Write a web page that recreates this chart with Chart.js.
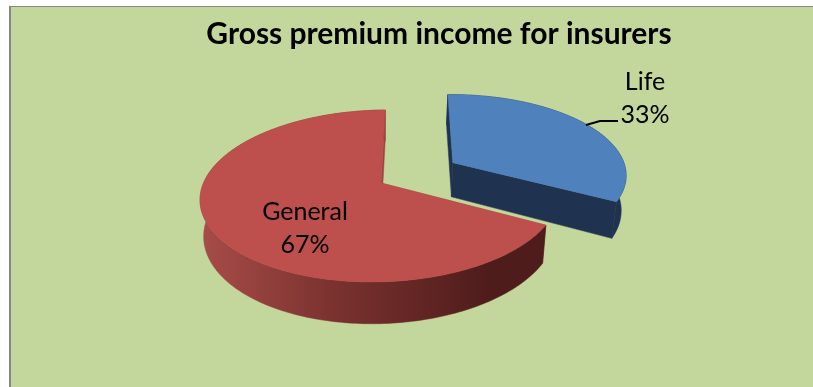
<!DOCTYPE html>
<html>
<head>
<meta charset="utf-8">
<title>Gross premium income for insurers</title>
<script src="https://cdn.jsdelivr.net/npm/chart.js@4"></script>
<style>
    html, body { margin: 0; background: #ffffff; overflow: hidden; }
    #frame {
        position: absolute; left: 9px; top: 6px;
        width: 802px; height: 380px;
        background: #c3d69b;
        border-left: 2px solid #868686;
        border-top: 1px solid #868686;
    }
    canvas { display: block; }
</style>
</head>
<body>
<div id="frame"><canvas id="premium-chart" width="802" height="380"></canvas></div>
<script>
const categories = ['Life', 'General'];
const shares = [33, 67];
const topColors = ['#4f81bd', '#bd4f4c'];

// Tilted pie: turns the arcs Chart.js lays out into an extruded, perspective view
const view = { shiftX: -58, originY: 176, sx: 177.5, sy: 84, skew: -8, perspective: 0.151, depth: 35.5, shrink: 0.02 };

function project(arc, u, v, z) {
    const w = 1 - view.perspective * v;
    const k = 1 - view.shrink * z;
    return {
        x: arc.x + view.shiftX + k * (view.sx * u + view.skew * v) / w,
        y: view.originY + (view.sy * v + z * view.depth) / w
    };
}

// Slice outline points on the unit plane, moved out by the arc's own offset
function slicePlane(arc) {
    const mid = (arc.startAngle + arc.endAngle) / 2;
    const d = (arc.options.offset || 0) / arc.outerRadius;
    const ox = Math.cos(mid) * d, oy = Math.sin(mid) * d;
    const rim = [];
    const steps = Math.ceil((arc.endAngle - arc.startAngle) / (Math.PI / 180));
    for (let i = 0; i <= steps; i++) {
        const a = arc.startAngle + (arc.endAngle - arc.startAngle) * i / steps;
        rim.push([ox + Math.cos(a), oy + Math.sin(a)]);
    }
    return { apex: [ox, oy], rim: rim };
}

function fillPoints(ctx, points, fill) {
    ctx.beginPath();
    points.forEach((p, i) => i ? ctx.lineTo(p.x, p.y) : ctx.moveTo(p.x, p.y));
    ctx.closePath();
    ctx.fillStyle = fill;
    ctx.strokeStyle = fill; // hairline stroke closes the seams between faces
    ctx.lineWidth = 0.5;
    ctx.fill();
    ctx.stroke();
}

function wallFill(ctx, index) {
    if (index === 0) return '#1f3350';
    const g = ctx.createLinearGradient(195, 0, 480, 0);
    g.addColorStop(0, '#a64b47');
    g.addColorStop(0.45, '#7a322f');
    g.addColorStop(1, '#4e1c1b');
    return g;
}

const tiltedPie = {
    id: 'tiltedPie',
    beforeDatasetsDraw(chart) {
        const ctx = chart.ctx;
        const arcs = chart.getDatasetMeta(0).data;
        ctx.save();
        arcs.forEach((arc, index) => {
            const { apex, rim } = slicePlane(arc);
            const top = rim.map(p => project(arc, p[0], p[1], 0));
            const low = rim.map(p => project(arc, p[0], p[1], 1));
            const apexTop = project(arc, apex[0], apex[1], 0);
            const apexLow = project(arc, apex[0], apex[1], 1);
            const cutFill = index === 0 ? '#1f3350' : '#9c4340';

            // start cut, curved wall, end cut, then the lid on top
            fillPoints(ctx, [apexTop, top[0], low[0], apexLow], cutFill);
            fillPoints(ctx, top.concat(low.slice().reverse()), wallFill(ctx, index));
            fillPoints(ctx, [apexTop, top[top.length - 1], low[low.length - 1], apexLow], cutFill);
            fillPoints(ctx, [apexTop].concat(top), arc.options.backgroundColor);
        });
        ctx.restore();
        return false;
    },
    afterDraw(chart) {
        const ctx = chart.ctx;
        ctx.save();
        ctx.fillStyle = '#000000';
        ctx.font = '25px Lato';
        ctx.textAlign = 'center';
        ctx.textBaseline = 'middle';
        const spots = [[634, 75], [294, 205]];
        categories.forEach((name, i) => {
            ctx.fillText(name, spots[i][0], spots[i][1]);
            ctx.fillText(shares[i] + '%', spots[i][0], spots[i][1] + 33);
        });
        // leader from the Life label to its slice
        ctx.strokeStyle = '#000000';
        ctx.lineWidth = 2;
        ctx.beginPath();
        ctx.moveTo(575, 118);
        ctx.lineTo(589, 114);
        ctx.lineTo(607, 114);
        ctx.stroke();
        ctx.restore();
    }
};

new Chart(document.getElementById('premium-chart'), {
    type: 'pie',
    data: {
        labels: categories,
        datasets: [{
            data: shares,
            backgroundColor: topColors,
            borderWidth: 0,
            offset: [48, 0]
        }]
    },
    options: {
        responsive: false,
        animation: false,
        radius: 100,
        rotation: -1,
        layout: { padding: { left: 54 } },
        plugins: {
            legend: { display: false },
            tooltip: { enabled: false },
            title: {
                display: true,
                text: 'Gross premium income for insurers',
                color: '#000000',
                font: { family: 'Lato', size: 30, weight: 'bold' },
                padding: { top: 9, bottom: 10 }
            }
        }
    },
    plugins: [tiltedPie]
});
</script>
</body>
</html>
